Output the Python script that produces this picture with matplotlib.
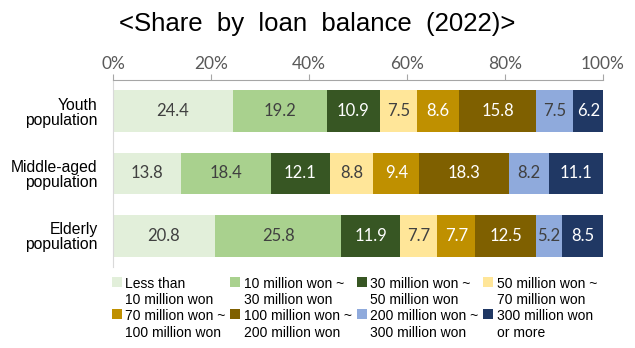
import numpy as np
import matplotlib.pyplot as plt
from matplotlib.patches import Rectangle
from matplotlib.legend_handler import HandlerPatch

# loan balance shares (%) per age group
groups = ["Youth\npopulation", "Middle-aged\npopulation", "Elderly\npopulation"]
brackets = ["Less than\n10 million won", "10 million won ~\n30 million won",
            "30 million won ~\n50 million won", "50 million won ~\n70 million won",
            "70 million won ~\n100 million won", "100 million won ~\n200 million won",
            "200 million won ~\n300 million won", "300 million won\nor more"]
youth = [24.4, 19.2, 10.9, 7.5, 8.6, 15.8, 7.5, 6.2]
middle = [13.8, 18.4, 12.1, 8.8, 9.4, 18.3, 8.2, 11.1]
elderly = [20.8, 25.8, 11.9, 7.7, 7.7, 12.5, 5.2, 8.5]

colors = ["#E2EFDA", "#A9D18E", "#375623", "#FFE699",
          "#BF9000", "#7F6000", "#8FAADC", "#203864"]
label_colors = ["#404040", "#404040", "white", "#404040",
                "white", "white", "#404040", "white"]

data = np.array([youth, middle, elderly])

fig = plt.figure(figsize=(6.35, 3.48), dpi=100)
ax = fig.add_axes([0.178, 0.2328, 0.7717, 0.5374])

y = np.arange(len(groups))
left = np.zeros(len(groups))
handles = []
for i in range(len(brackets)):
    vals = data[:, i]
    bars = ax.barh(y, vals, left=left, height=0.67, color=colors[i],
                   label=brackets[i])
    handles.append(bars.patches[0])
    for yy, l, v in zip(y, left, vals):
        ax.text(l + v / 2, yy, f"{v:.1f}", ha="center", va="center",
                fontsize=12, color=label_colors[i], family="Lato")
    left += vals

ax.set_xlim(0, 100)
ax.set_ylim(2.5, -0.5)
ax.xaxis.tick_top()
ax.set_xticks(np.arange(0, 101, 20))
ax.set_xticklabels([f"{t}%" for t in range(0, 101, 20)], family="Lato",
                   fontsize=12.5, color="#595959")
ax.tick_params(axis="x", direction="out", length=4.5, color="#A6A6A6", pad=1.5)
ax.set_yticks(y)
ax.set_yticklabels(groups, fontsize=11.3, family="Liberation Sans")
for lbl in ax.get_yticklabels():
    lbl.set_linespacing(1.0)
ax.tick_params(axis="y", length=0, pad=11)
for s in ["right", "bottom"]:
    ax.spines[s].set_visible(False)
ax.spines["top"].set_color("#A6A6A6")
ax.spines["left"].set_color("#D9D9D9")

fig.text(0.5, 0.93, "<Share  by  loan  balance  (2022)>", ha="center",
         va="center", fontsize=18.5, family="Liberation Sans")


# put the legend swatch beside the first line of its two-line label
def top_square(legend, orig_handle, xdescent, ydescent, width, height, fontsize):
    return Rectangle((-xdescent, -ydescent + 0.8 * fontsize), width, height)


# row-major order for a 4-column legend
order = [0, 4, 1, 5, 2, 6, 3, 7]
leg = fig.legend(handles=[handles[k] for k in order],
                 labels=[brackets[k] for k in order],
                 loc="upper left", bbox_to_anchor=(0.176, 0.205),
                 ncol=4, frameon=False, borderpad=0, borderaxespad=0,
                 handlelength=0.72, handleheight=0.72,
                 handletextpad=0.25, columnspacing=0.35, labelspacing=0.15,
                 handler_map={Rectangle: HandlerPatch(patch_func=top_square)},
                 prop={"family": "Liberation Sans", "size": 10})
for t in leg.get_texts():
    t.set_linespacing(1.25)

fig.savefig("out.png", dpi=100)
